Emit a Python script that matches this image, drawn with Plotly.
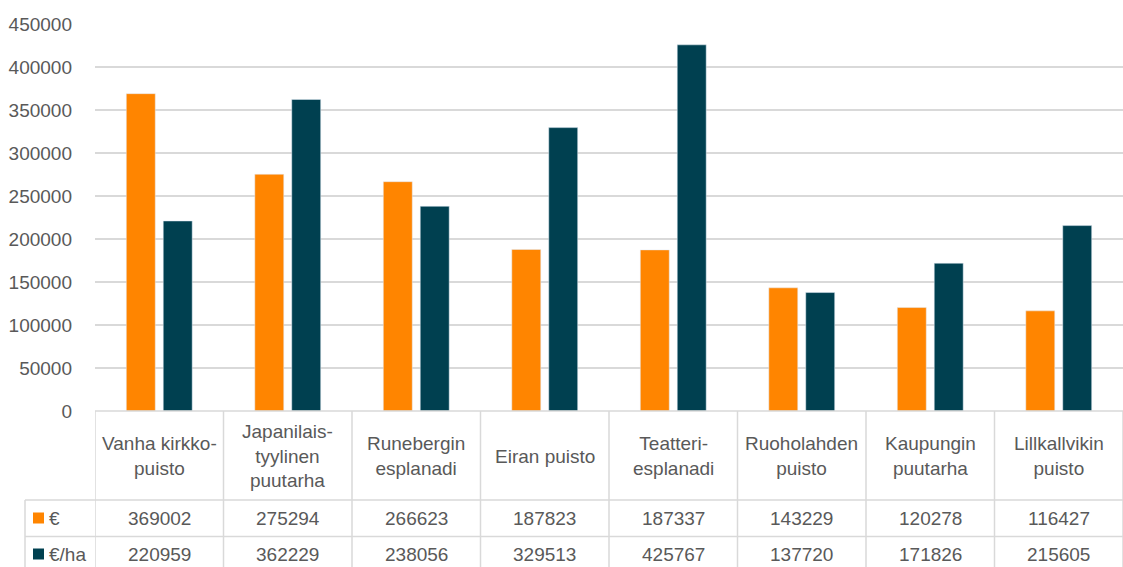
import plotly.graph_objects as go

# Park names (line breaks as shown in the table header row)
categories = [
    "Vanha kirkko-<br>puisto",
    "Japanilais-<br>tyylinen<br>puutarha",
    "Runebergin<br>esplanadi",
    "Eiran puisto",
    "Teatteri-<br>esplanadi",
    "Ruoholahden<br>puisto",
    "Kaupungin<br>puutarha",
    "Lillkallvikin<br>puisto",
]
eur = [369002, 275294, 266623, 187823, 187337, 143229, 120278, 116427]
eur_per_ha = [220959, 362229, 238056, 329513, 425767, 137720, 171826, 215605]
series_names = ["€", "€/ha"]
y_ticks = [0, 50000, 100000, 150000, 200000, 250000, 300000, 350000, 400000, 450000]

ORANGE = "#FF8500"
TEAL = "#004050"
TEXT = "#595959"
GRID = "#D9D9D9"
FONT = "Liberation Sans, Arial, sans-serif"
FS = 19

W, H = 1123, 567
L, R, T, B = 95, 0, 24, 156
plot_h = H - T - B
plot_w = W - L - R


def py(pix):
    """Convert a pixel row (from top) to paper y."""
    return (H - B - pix) / plot_h


def px(pix):
    """Convert a pixel column to paper x."""
    return (pix - L) / plot_w


xs = list(range(len(categories)))

fig = go.Figure()
fig.add_trace(go.Bar(x=xs, y=eur, name=series_names[0], marker=dict(color=ORANGE)))
fig.add_trace(go.Bar(x=xs, y=eur_per_ha, name=series_names[1], marker=dict(color=TEAL)))

shapes = []
annotations = []

# data table: header row, value rows
row_head_c = py(456)
row_eur_c = py(518)
row_ha_c = py(554)
line_1 = py(500)
line_2 = py(536.5)
bottom = py(H + 5)
left_col = px(25)

# horizontal grid of table
for yl in (line_1, line_2):
    shapes.append(dict(type="line", xref="paper", yref="paper", x0=left_col, x1=1,
                       y0=yl, y1=yl, line=dict(color=GRID, width=1.5)))
shapes.append(dict(type="line", xref="paper", yref="paper", x0=0, x1=1,
                   y0=0, y1=0, line=dict(color=GRID, width=1.5)))
# vertical separators
for i in range(len(categories) + 1):
    shapes.append(dict(type="line", xref="x", yref="paper", x0=i - 0.5, x1=i - 0.5,
                       y0=0, y1=bottom, line=dict(color=GRID, width=1.5)))
shapes.append(dict(type="line", xref="paper", yref="paper", x0=left_col, x1=left_col,
                   y0=line_1, y1=bottom, line=dict(color=GRID, width=1.5)))

# legend keys inside the table
for yc, col, name in ((row_eur_c, ORANGE, series_names[0]), (row_ha_c, TEAL, series_names[1])):
    half = 5.5 / plot_h
    shapes.append(dict(type="rect", xref="paper", yref="paper", x0=px(33), x1=px(44),
                       y0=yc - half, y1=yc + half, fillcolor=col, line=dict(width=0)))
    annotations.append(dict(xref="paper", yref="paper", x=px(47), y=yc, text=name,
                            showarrow=False, xanchor="left", yanchor="middle",
                            font=dict(family=FONT, size=FS, color=TEXT)))

for i, cat in enumerate(categories):
    annotations.append(dict(xref="x", yref="paper", x=i, y=row_head_c, text=cat,
                            showarrow=False, xanchor="center", yanchor="middle",
                            font=dict(family=FONT, size=FS, color=TEXT)))
    annotations.append(dict(xref="x", yref="paper", x=i, y=row_eur_c, text=str(eur[i]),
                            showarrow=False, xanchor="center", yanchor="middle",
                            font=dict(family=FONT, size=FS, color=TEXT)))
    annotations.append(dict(xref="x", yref="paper", x=i, y=row_ha_c, text=str(eur_per_ha[i]),
                            showarrow=False, xanchor="center", yanchor="middle",
                            font=dict(family=FONT, size=FS, color=TEXT)))

fig.update_layout(
    width=W, height=H,
    margin=dict(l=L, r=R, t=T, b=B, pad=0),
    paper_bgcolor="white", plot_bgcolor="white",
    barmode="group", bargap=0.425, bargroupgap=0.216,
    showlegend=False,
    font=dict(family=FONT, size=FS, color=TEXT),
    shapes=shapes, annotations=annotations,
    xaxis=dict(range=[-0.5, len(categories) - 0.5], showticklabels=False,
               showgrid=False, zeroline=False, showline=False, ticks=""),
    yaxis=dict(range=[0, 450000], tickvals=y_ticks, ticktext=[str(v) for v in y_ticks],
               showgrid=True, gridcolor=GRID, gridwidth=1.5, zeroline=False,
               showline=False, ticks="", ticklabelstandoff=22,
               tickfont=dict(family=FONT, size=FS, color=TEXT)),
)

fig.write_html("out.html")
